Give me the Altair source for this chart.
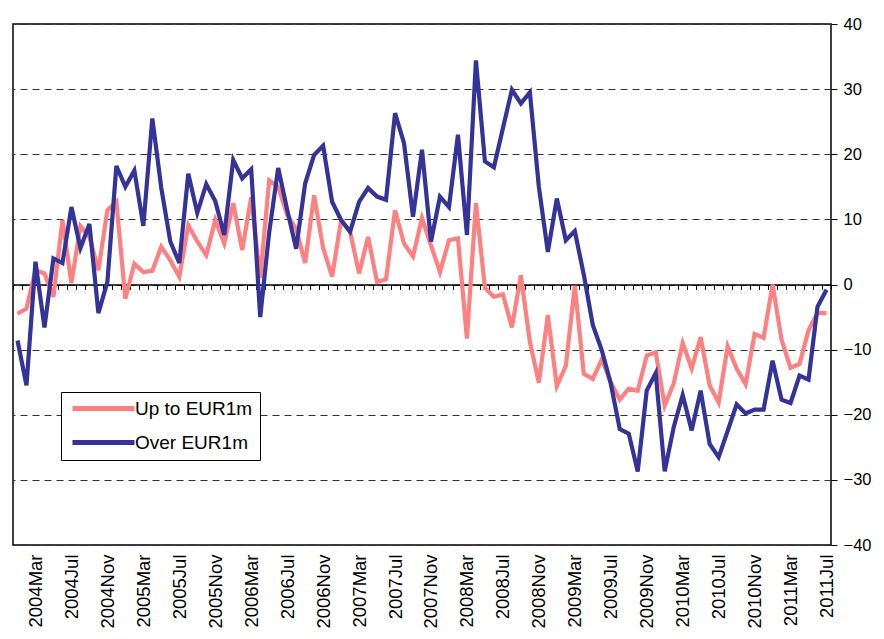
import json
import altair as alt
import pandas as pd

# ---- data -------------------------------------------------------------
month_names = ["Jan", "Feb", "Mar", "Apr", "May", "Jun",
               "Jul", "Aug", "Sep", "Oct", "Nov", "Dec"]
years = list(range(2004, 2012))
months = [f"{y}{m}" for y in years for m in month_names][:91]  # 2004Jan .. 2011Jul

up_to_1m = [
    -4.5, -3.7, 2.2, 1.7, -1.9, 9.9, 0.2, 9.0, 7.3, 2.2,
    11.4, 12.7, -2.2, 3.2, 1.9, 2.1, 5.8, 3.7, 1.2, 9.1,
    6.6, 4.5, 9.9, 6.3, 12.5, 5.3, 13.4, 1.0, 16.0, 15.0,
    10.7, 8.5, 3.3, 13.7, 5.6, 1.2, 9.9, 8.1, 1.7, 7.3,
    0.4, 0.8, 11.4, 6.3, 4.3, 10.2, 6.0, 1.9, 6.8, 7.1,
    -8.3, 12.5, -0.5, -1.9, -1.5, -6.6, 1.4, -8.8, -15.1, -4.7,
    -15.6, -12.5, -0.2, -13.7, -14.5, -11.5, -15.0, -17.7, -16.0, -16.3,
    -10.9, -10.4, -18.6, -15.2, -9.0, -12.9, -8.1, -15.5, -18.1, -9.5,
    -12.9, -15.3, -7.6, -8.2, 0.0, -8.5, -12.8, -12.2, -7.0, -4.4,
    -4.4,
]

over_1m = [
    -8.6, -15.5, 3.5, -6.6, 4.0, 3.3, 11.9, 5.6, 9.3, -4.4,
    0.4, 18.2, 15.0, 17.5, 9.0, 25.5, 14.8, 6.6, 3.3, 17.0,
    11.0, 15.4, 12.8, 7.6, 19.1, 16.3, 17.7, -5.0, 8.0, 17.9,
    11.5, 5.5, 15.5, 19.9, 21.3, 12.7, 9.9, 8.1, 12.7, 14.8,
    13.5, 13.0, 26.3, 21.7, 10.4, 20.7, 6.6, 13.5, 11.9, 23.0,
    7.6, 34.4, 18.9, 18.0, 24.0, 29.9, 27.8, 29.5, 15.0, 5.0,
    13.2, 6.8, 8.2, 1.5, -6.2, -10.1, -15.2, -22.2, -22.9, -28.7,
    -16.3, -13.6, -28.7, -21.9, -17.0, -22.4, -16.3, -24.5, -26.5, -22.5,
    -18.4, -19.8, -19.2, -19.2, -11.7, -17.7, -18.2, -14.0, -14.6, -3.4,
    -0.8,
]

series_names = ["Up to EUR1m", "Over EUR1m"]
series_colors = ["#FF8080", "#333399"]
y_ticks = [-40, -30, -20, -10, 0, 10, 20, 30, 40]
label_every = 4
first_label = 2  # 2004Mar

rows = []
for name, vals in zip(series_names, [up_to_1m, over_1m]):
    for i, (m, v) in enumerate(zip(months, vals)):
        rows.append({"idx": i, "month": m, "series": name, "value": v})
df = pd.DataFrame(rows)

n = len(months)
label_idx = list(range(first_label, n, label_every))
boundaries = [i - 0.5 for i in range(n + 1)]

FONT = "Arial, Liberation Sans"

xscale = alt.Scale(domain=[-0.5, n - 0.5], nice=False, zero=False)
yscale = alt.Scale(domain=[-40, 40], nice=False, zero=False)

y_axis = alt.Axis(orient="right", values=y_ticks, title=None,
                  labelFontSize=16.5, labelFont=FONT, labelColor="black",
                  tickSize=6, tickColor="black", labelPadding=6,
                  domain=False, grid=True, gridDash=[7, 5],
                  gridColor="#333333", gridWidth=1)

lines = alt.Chart(df).mark_line(strokeWidth=4.2).encode(
    x=alt.X("idx:Q", scale=xscale,
            axis=alt.Axis(values=label_idx, title=None,
                          labelExpr=f"{json.dumps(months)}[datum.value]",
                          labelAngle=270, labelAlign="right", labelBaseline="middle",
                          labelFontSize=18.5, labelFont=FONT, labelColor="black",
                          labelPadding=9, ticks=False, tickSize=0, domain=False,
                          grid=False, orient="bottom", labelOverlap=False)),
    y=alt.Y("value:Q", scale=yscale, axis=y_axis),
    color=alt.Color("series:N",
                    scale=alt.Scale(domain=series_names, range=series_colors),
                    legend=alt.Legend(title=None, orient="none", legendX=48, legendY=368,
                                      symbolType="M-6.2,0H6.2", symbolSize=100,
                                      symbolStrokeWidth=5, symbolOffset=26,
                                      labelOffset=22, labelFontSize=19, labelFont=FONT,
                                      labelColor="black", rowPadding=13, padding=7,
                                      fillColor="white", strokeColor="black",
                                      cornerRadius=0)),
    order=alt.Order("idx:Q"),
)

zero_ticks = alt.Chart(df).mark_point(opacity=0).encode(
    x=alt.X("idx:Q", scale=xscale,
            axis=alt.Axis(values=boundaries, labels=False, title=None,
                          ticks=True, tickSize=5, tickColor="black", tickWidth=1,
                          domain=True, domainColor="black", domainWidth=1.5,
                          grid=False, orient="bottom", offset=-260.5)),
    y=alt.Y("value:Q", scale=yscale, axis=y_axis),
)

chart = alt.layer(zero_ticks, lines).resolve_axis(x="independent").properties(
    width=818, height=521,
    autosize=alt.AutoSizeParams(type="none"),
    padding={"left": 5, "top": 16, "right": 40, "bottom": 86},
).configure_view(stroke="black", strokeWidth=1.5)

chart.save("out.html", embed_options={"renderer": "svg", "actions": False})
